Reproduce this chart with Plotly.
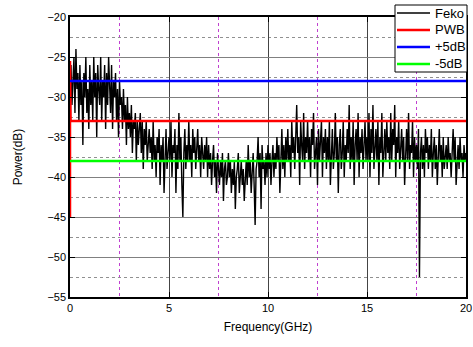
import numpy as np
import plotly.graph_objects as go

# Feko samples every 0.05 GHz from 0 to 20 GHz
feko_db = [
    -30,-26,-31,-27,-25,-32,-24,-29,-27,-33,-26,-31,-28,-36,-27,-30,-25,-32,-29,-34,
    -26,-31,-28,-33,-25,-30,-27,-35,-26,-29,-31,-25,-33,-28,-30,-26,-34,-27,-31,-25,
    -29,-32,-26,-34,-28,-30,-27,-33,-29,-35,-28,-31,-30,-34,-29,-33,-31,-36,-30,-34,
    -32,-35,-31,-37,-33,-34,-32,-38,-33,-36,-34,-32,-37,-33,-39,-34,-36,-33,-38,-35,
    -34,-37,-35,-39,-33,-38,-36,-40,-35,-37,-34,-41,-36,-38,-35,-42,-37,-34,-39,-36,
    -35,-38,-33,-40,-36,-37,-34,-42,-36,-39,-32,-38,-35,-41,-45,-37,-34,-39,-36,-38,
    -33,-38,-36,-40,-34,-37,-35,-39,-36,-34,-38,-36,-40,-35,-37,-39,-36,-38,-35,-40,
    -36,-39,-37,-41,-38,-36,-40,-38,-42,-37,-39,-41,-38,-40,-37,-43,-39,-38,-41,-40,
    -37,-40,-38,-42,-39,-41,-38,-44,-40,-39,-37,-42,-40,-38,-41,-39,-43,-40,-38,-41,
    -36,-40,-38,-42,-39,-37,-41,-46,-39,-38,-35,-40,-37,-44,-36,-39,-38,-41,-37,-40,
    -36,-39,-37,-41,-38,-36,-40,-37,-39,-35,-38,-36,-42,-37,-34,-39,-36,-40,-35,-38,
    -34,-38,-36,-40,-33,-37,-35,-39,-34,-31,-37,-35,-41,-33,-36,-38,-32,-39,-35,-37,
    -33,-38,-35,-40,-34,-36,-32,-39,-37,-35,-41,-34,-38,-36,-33,-40,-35,-37,-34,-39,
    -35,-38,-33,-41,-36,-34,-39,-37,-32,-38,-35,-42,-36,-34,-39,-37,-33,-40,-36,-38,
    -34,-37,-31,-39,-35,-38,-33,-41,-36,-34,-38,-32,-40,-35,-37,-34,-39,-36,-33,-38,
    -35,-38,-32,-40,-34,-37,-31,-39,-36,-34,-38,-33,-41,-35,-37,-32,-40,-36,-34,-38,
    -33,-37,-35,-39,-32,-38,-34,-36,-31,-40,-35,-37,-33,-39,-36,-34,-38,-35,-41,-36,
    -34,-38,-32,-39,-36,-37,-33,-40,-35,-38,-36,-39,-34,-52.5,-37,-35,-39,-36,-40,-34,
    -37,-35,-39,-36,-38,-34,-40,-37,-35,-39,-36,-41,-37,-34,-38,-36,-40,-35,-39,-37,
    -36,-39,-35,-38,-37,-40,-36,-34,-38,-35,-41,-37,-36,-39,-35,-38,-37,-40,-36,-38,
    -37,
]
feko_ghz = [round(i * 0.05, 2) for i in range(len(feko_db))]

pwb_ghz = [0, 0, 0.03, 20]
pwb_db = [-45, -25.5, -33, -33]

plus5_ghz = [0, 20]
plus5_db = [-28, -28]
minus5_ghz = [0, 20]
minus5_db = [-38, -38]

series_names = ["Feko", "PWB", "+5dB", "-5dB"]
series_colors = ["black", "#ff0000", "#0000ff", "#00ff00"]
series_widths = [1.4, 2.5, 2.5, 2.5]
series_x = [feko_ghz, pwb_ghz, plus5_ghz, minus5_ghz]
series_y = [feko_db, pwb_db, plus5_db, minus5_db]

fig = go.Figure()
for nm, col, w, xs, ys in zip(series_names, series_colors, series_widths, series_x, series_y):
    fig.add_trace(go.Scatter(x=xs, y=ys, mode="lines", name=nm,
                             line=dict(color=col, width=w), showlegend=False))

W, H = 473, 347
ML, MR, MT, MB = 70, 7, 17, 50
PW, PH = W - ML - MR, H - MT - MB


def px_x(p):
    return (p - ML) / PW


def px_y(p):
    return (H - MB - p) / PH


# legend box (compact, like the original)
shapes = [dict(type="rect", xref="paper", yref="paper",
               x0=px_x(395), x1=px_x(467), y0=px_y(72), y1=px_y(5),
               line=dict(color="black", width=1), fillcolor="white", layer="above")]
annotations = []
row_y = [13, 30, 47, 64]
for nm, col, w, ry in zip(series_names, series_colors, series_widths, row_y):
    shapes.append(dict(type="line", xref="paper", yref="paper",
                       x0=px_x(397), x1=px_x(430), y0=px_y(ry), y1=px_y(ry),
                       line=dict(color=col, width=w), layer="above"))
    annotations.append(dict(xref="paper", yref="paper", x=px_x(433), y=px_y(ry),
                            xanchor="left", yanchor="middle", text=nm, showarrow=False,
                            font=dict(size=13, color="black")))

font = "Liberation Sans, Arial, sans-serif"
fig.update_layout(
    width=W, height=H,
    margin=dict(l=ML, r=MR, t=MT, b=MB),
    paper_bgcolor="white", plot_bgcolor="white",
    font=dict(family=font, size=11, color="black"),
    showlegend=False,
    shapes=shapes, annotations=annotations,
    xaxis=dict(range=[0, 20], tickvals=[0, 5, 10, 15, 20], automargin=False,
               showline=True, linecolor="black", linewidth=1.5, mirror="ticks",
               ticks="inside", ticklen=5, tickcolor="black",
               showgrid=True, gridcolor="#444444", gridwidth=1,
               zeroline=False,
               minor=dict(dtick=2.5, tick0=0, showgrid=True, gridcolor="#c040d0",
                          griddash="dot", gridwidth=1, ticks=""),
               title=dict(text="Frequency(GHz)", font=dict(size=12), standoff=10)),
    yaxis=dict(range=[-55, -20], tickvals=[-55, -50, -45, -40, -35, -30, -25, -20],
               automargin=False,
               showline=True, linecolor="black", linewidth=1.5, mirror="ticks",
               ticks="inside", ticklen=5, tickcolor="black",
               showgrid=True, gridcolor="#808080", gridwidth=1,
               zeroline=False,
               minor=dict(dtick=2.5, tick0=-55, showgrid=True, gridcolor="#909090",
                          griddash="dot", gridwidth=1, ticks=""),
               title=dict(text="Power(dB)", font=dict(size=12), standoff=22)),
)
fig.write_html("out.html", config={"displayModeBar": False},
               post_script="document.body.style.margin='0px';document.body.style.overflow='hidden';")
